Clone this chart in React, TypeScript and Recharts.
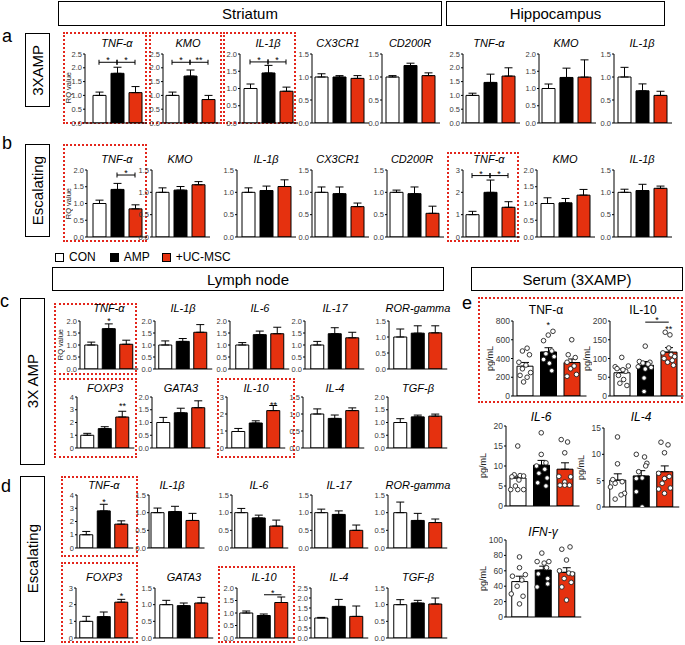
import React from 'react';
import { ComposedChart, Bar, Cell, XAxis, YAxis, ErrorBar, ReferenceLine, Scatter } from 'recharts';

const FONT = '"Liberation Sans", Arial, Helvetica, sans-serif';
const GROUPS = ['CON', 'AMP', '+UC-MSC'];
const FILLS = ['#ffffff', '#000000', '#e5310f'];

type Ann = { a: number; b: number; y: number; t: string; k: 'b' | 'l' | 's' };
const br = (a: number, b: number, y: number, t: string): Ann => ({ a, b, y, t, k: 'b' });
const ln = (a: number, b: number, y: number, t: string): Ann => ({ a, b, y, t, k: 'l' });
const st = (a: number, y: number, t: string): Ann => ({ a, b: a, y, t, k: 's' });

// ---------- Row a : 3XAMP (Striatum x5, Hippocampus x3) ----------
const rowATitles = ['TNF-α', 'KMO', 'IL-1β', 'CX3CR1', 'CD200R', 'TNF-α', 'KMO', 'IL-1β'];
const rowAMean = [[1.0, 1.8, 1.1], [1.0, 1.7, 0.85], [1.0, 1.45, 0.92], [1.0, 1.0, 0.97], [1.0, 1.25, 1.03], [1.0, 1.47, 1.7], [1.0, 1.32, 1.33], [1.0, 0.7, 0.6]];
const rowASem = [[0.12, 0.22, 0.22], [0.12, 0.22, 0.15], [0.13, 0.22, 0.12], [0.07, 0.03, 0.06], [0.03, 0.05, 0.06], [0.08, 0.3, 0.3], [0.13, 0.27, 0.5], [0.21, 0.15, 0.09]];
const rowAMax = [2.5, 2.5, 2.0, 1.5, 1.5, 2.5, 2.0, 1.5];
const rowAStep = [0.5, 0.5, 0.5, 0.5, 0.5, 0.5, 0.5, 0.5];
const rowAAnn: Ann[][] = [[br(0, 1, 2.2, '*'), br(1, 2, 2.2, '*')], [br(0, 1, 2.2, '*'), br(1, 2, 2.2, '**')], [br(0, 1, 1.77, '*'), br(1, 2, 1.77, '*')], [], [], [], [], []];

// ---------- Row b : Escalating ----------
const rowBTitles = ['TNF-α', 'KMO', 'IL-1β', 'CX3CR1', 'CD200R', 'TNF-α', 'KMO', 'IL-1β'];
const rowBMean = [[1.0, 1.42, 0.84], [1.0, 1.05, 1.17], [1.0, 1.04, 1.13], [1.0, 0.97, 0.68], [1.0, 0.97, 0.53], [1.0, 2.0, 1.33], [1.0, 1.02, 1.25], [1.0, 1.04, 1.09]];
const rowBSem = [[0.1, 0.18, 0.12], [0.1, 0.08, 0.07], [0.1, 0.1, 0.15], [0.12, 0.15, 0.08], [0.05, 0.15, 0.16], [0.15, 0.55, 0.25], [0.17, 0.13, 0.17], [0.07, 0.14, 0.05]];
const rowBMax = [2.0, 1.5, 1.5, 1.5, 1.5, 3, 2.0, 1.5];
const rowBStep = [0.5, 0.5, 0.5, 0.5, 0.5, 1, 0.5, 0.5];
const rowBAnn: Ann[][] = [[br(1, 2, 1.85, '*')], [], [], [], [], [br(0, 1, 2.75, '*'), br(1, 2, 2.75, '*')], [], []];

// ---------- Row c : Lymph node 3X AMP ----------
const rowC1Titles = ['TNF-α', 'IL-1β', 'IL-6', 'IL-17', 'ROR-gamma'];
const rowC1Mean = [[1.0, 1.68, 1.03], [1.0, 1.15, 1.53], [1.0, 1.43, 1.47], [1.0, 1.47, 1.3], [1.0, 1.12, 1.13]];
const rowC1Sem = [[0.12, 0.2, 0.17], [0.17, 0.12, 0.32], [0.1, 0.15, 0.27], [0.15, 0.25, 0.23], [0.25, 0.23, 0.22]];
const rowC1Max = [2, 2, 2, 2, 1.5];
const rowC1Step = [0.5, 0.5, 0.5, 0.5, 0.5];
const rowC1Ann: Ann[][] = [[st(1, 2.1, '*')], [], [], [], []];

const rowC2Titles = ['FOXP3', 'GATA3', 'IL-10', 'IL-4', 'TGF-β'];
const rowC2Mean = [[1.0, 1.52, 2.43], [1.0, 1.38, 1.58], [0.97, 1.47, 2.2], [1.0, 0.87, 1.1], [1.0, 1.22, 1.25]];
const rowC2Sem = [[0.15, 0.15, 0.45], [0.2, 0.18, 0.27], [0.18, 0.13, 0.3], [0.15, 0.1, 0.08], [0.15, 0.07, 0.08]];
const rowC2Max = [4, 2, 3, 1.5, 2];
const rowC2Step = [1, 0.5, 1, 0.5, 0.5];
const rowC2Ann: Ann[][] = [[st(2, 3.45, '**')], [], [st(2, 2.65, '**')], [], []];

// ---------- Row d : Lymph node Escalating ----------
const rowD1Titles = ['TNF-α', 'IL-1β', 'IL-6', 'IL-17', 'ROR-gamma'];
const rowD1Mean = [[1.0, 2.8, 1.8], [1.0, 1.03, 0.78], [1.0, 0.85, 0.62], [1.0, 0.95, 0.5], [1.0, 0.78, 0.72]];
const rowD1Sem = [[0.25, 0.5, 0.25], [0.13, 0.15, 0.2], [0.12, 0.08, 0.17], [0.1, 0.1, 0.15], [0.3, 0.2, 0.1]];
const rowD1Max = [4, 1.5, 1.5, 1.5, 1.5];
const rowD1Step = [1, 0.5, 0.5, 0.5, 0.5];
const rowD1Ann: Ann[][] = [[st(1, 3.62, '*')], [], [], [], []];

const rowD2Titles = ['FOXP3', 'GATA3', 'IL-10', 'IL-4', 'TGF-β'];
const rowD2Mean = [[1.0, 1.28, 2.15], [1.0, 0.97, 1.05], [1.0, 0.9, 1.42], [1.0, 1.58, 1.08], [1.0, 1.05, 1.02]];
const rowD2Sem = [[0.3, 0.28, 0.17], [0.13, 0.08, 0.17], [0.08, 0.06, 0.22], [0.03, 0.35, 0.52], [0.15, 0.08, 0.18]];
const rowD2Max = [3, 1.5, 2, 2.5, 1.5];
const rowD2Step = [1, 0.5, 0.5, 0.5, 0.5];
const rowD2Ann: Ann[][] = [[st(2, 2.62, '*')], [], [ln(1, 2, 1.73, '*')], [], []];

// ---------- Serum (3XAMP) ----------
const serumTitles = ['TNF-α', 'IL-10', 'IL-6', 'IL-4', 'IFN-γ'];
const serumMean = [[318, 470, 357], [62, 82, 117], [7.0, 10.2, 9.2], [5.1, 5.9, 6.7], [46, 61, 58]];
const serumSem = [[40, 45, 38], [10, 10, 12], [0.5, 1.2, 1.6], [1.2, 1.0, 1.1], [7, 5, 6]];
const serumMax = [800, 200, 20, 15, 100];
const serumStep = [200, 50, 5, 5, 20];
const serumAnn: Ann[][] = [[st(1, 779, '*')], [ln(1, 2, 197, '*'), st(2, 184, '**')], [], [], []];
// individual animals: [x-jitter in group units, value]
const tnfPts = [
  [[0.1, 510], [-0.1, 480], [0.2, 440], [-0.25, 360], [0.05, 330], [-0.1, 290], [0.25, 250], [-0.2, 220], [0.1, 200], [-0.05, 150]],
  [[0.2, 690], [0.0, 650], [-0.2, 590], [0.15, 480], [-0.1, 450], [0.25, 420], [-0.2, 390], [0.05, 350], [0.15, 270]],
  [[0.0, 600], [-0.15, 440], [0.15, 410], [-0.2, 360], [0.1, 320], [-0.05, 290], [0.2, 230], [-0.2, 210]],
];
const il10Pts = [
  [[0, 103], [0.28, 80], [-0.28, 78], [-0.2, 73], [0.17, 66], [-0.14, 55], [0.08, 44], [-0.08, 34], [0.22, 28], [0.05, 70]],
  [[0, 133], [-0.25, 92], [0.2, 90], [-0.1, 88], [0.12, 85], [-0.3, 78], [0.25, 76], [0, 72], [-0.05, 48], [-0.05, 12]],
  [[-0.15, 170], [0.05, 163], [0, 128], [-0.25, 115], [0.1, 110], [0.25, 105], [-0.2, 100], [0.15, 95], [-0.05, 90], [0.2, 82]],
];
const il6Pts = [
  [[0, 15], [-0.15, 7.8], [0.1, 7.6], [0.25, 7.5], [-0.25, 7.3], [0.05, 6.5], [-0.3, 4.1], [0, 4.1], [0.25, 4.1], [-0.1, 5.0]],
  [[0, 18.3], [0, 12.9], [0.2, 10.8], [-0.2, 10.0], [0.15, 9.2], [-0.1, 8.2], [0.25, 7.0], [-0.15, 5.8], [0.2, 5.0]],
  [[-0.15, 16.6], [0.12, 16.0], [0, 13.3], [-0.25, 7.4], [0.25, 7.3], [0, 6.0], [-0.2, 5.2], [0.2, 5.2], [0, 5.2]],
];
const il4Pts = [
  [[0, 13.3], [0, 8.2], [-0.2, 5.2], [0.2, 4.8], [-0.1, 4.5], [0.3, 2.6], [0.15, 2.3], [-0.1, 1.5], [-0.3, 3.8]],
  [[-0.2, 10], [0.15, 9.5], [0.25, 8.3], [-0.1, 6.7], [0.2, 7.8], [0.05, 5.5], [-0.2, 5.4], [-0.2, 2.9], [0.05, 0]],
  [[-0.15, 12.3], [0.15, 11.8], [0, 10.3], [-0.25, 6.4], [0.2, 5.8], [0, 5.4], [-0.1, 4.5], [0.25, 3.6], [-0.25, 3.4], [0, 2.6]],
];
const ifnPts = [
  [[0, 78], [0, 64], [-0.3, 53], [0.25, 55], [0.1, 48], [-0.1, 40], [-0.35, 30], [0.15, 27], [0, 17]],
  [[-0.05, 83], [-0.25, 72], [0.25, 72], [0.05, 70], [0.15, 64], [-0.2, 56], [0.2, 50], [0.2, 43], [-0.25, 39]],
  [[-0.2, 88], [0.15, 91], [0, 74], [-0.3, 60], [0.1, 57], [0.25, 56], [-0.1, 50], [0.2, 45], [-0.2, 39], [0, 22]],
];
const serumPts = [tnfPts, il10Pts, il6Pts, il4Pts, ifnPts];

// ---------- layout (axis x, bar-group centre) ----------
const layoutA = [[85, 117], [163, 188], [240, 268], [312, 338], [382, 410], [463, 489], [539, 566], [614, 642]];
const layoutB = [[87, 117], [152, 180], [237, 266], [312, 338], [387, 412], [463, 489], [537, 565], [614, 642]];
const layoutC1 = [[80, 109], [155, 183], [230, 260], [305, 335], [389, 418]];
const layoutC2 = [[77, 105], [152, 181], [227, 256], [303, 335], [388, 418]];
const layoutD1 = [[77, 104], [149, 172], [232, 259], [312, 339], [388, 418]];
const layoutD2 = [[76, 104], [155, 184], [237, 264], [311, 339], [388, 418]];
const layoutSerum = [
  { ax: 513, c: 546, top: 321, h: 75, ty: 310, italic: false },
  { ax: 610, c: 643, top: 321, h: 75, ty: 310, italic: false },
  { ax: 506, c: 541, top: 426, h: 80, ty: 417, italic: true },
  { ax: 604, c: 641, top: 428, h: 79, ty: 417, italic: true },
  { ax: 506, c: 543, top: 540, h: 77, ty: 532, italic: true },
];

const ROWS = [
  { titles: rowATitles, mean: rowAMean, sem: rowASem, max: rowAMax, step: rowAStep, ann: rowAAnn, layout: layoutA, top: 54, h: 69, ty: 43, band: 18 },
  { titles: rowBTitles, mean: rowBMean, sem: rowBSem, max: rowBMax, step: rowBStep, ann: rowBAnn, layout: layoutB, top: 170, h: 67, ty: 159, band: 18 },
  { titles: rowC1Titles, mean: rowC1Mean, sem: rowC1Sem, max: rowC1Max, step: rowC1Step, ann: rowC1Ann, layout: layoutC1, top: 321, h: 48, ty: 308, band: 17.5 },
  { titles: rowC2Titles, mean: rowC2Mean, sem: rowC2Sem, max: rowC2Max, step: rowC2Step, ann: rowC2Ann, layout: layoutC2, top: 397, h: 51, ty: 388, band: 17.5 },
  { titles: rowD1Titles, mean: rowD1Mean, sem: rowD1Sem, max: rowD1Max, step: rowD1Step, ann: rowD1Ann, layout: layoutD1, top: 495, h: 53, ty: 485, band: 17.5 },
  { titles: rowD2Titles, mean: rowD2Mean, sem: rowD2Sem, max: rowD2Max, step: rowD2Step, ann: rowD2Ann, layout: layoutD2, top: 588, h: 50, ty: 577, band: 17.5 },
];

const redBoxes = [
  [63, 32, 84, 92], [149, 32, 73, 92], [223, 32, 73, 92],
  [63, 144, 84, 98], [447, 152, 72, 90],
  [54, 303, 83, 72], [54, 378, 83, 80], [217, 378, 78, 80],
  [61, 476, 77, 81], [61, 562, 77, 81], [218, 566, 77, 77],
  [478, 297, 205, 106],
];

const annShape = (a: Ann) => (props: any) => {
  const x1 = props.x1, x2 = props.x2, y = props.y1;
  const cx = (x1 + x2) / 2;
  return (
    <g>
      {a.k !== 's' && <line x1={x1} y1={y} x2={x2} y2={y} stroke="#000" strokeWidth={1} />}
      {a.k === 'b' && <line x1={x1} y1={y - 2.5} x2={x1} y2={y + 2.5} stroke="#000" strokeWidth={1} />}
      {a.k === 'b' && <line x1={x2} y1={y - 2.5} x2={x2} y2={y + 2.5} stroke="#000" strokeWidth={1} />}
      <text x={cx} y={a.k === 's' ? y + 5 : y + 1} textAnchor="middle" fontSize={9} fontFamily={FONT} fill="#000">{a.t}</text>
    </g>
  );
};

const dot = (p: any) => <circle cx={p.cx} cy={p.cy} r={2.3} fill="#fff" stroke="#222" strokeWidth={0.9} />;

function Mini(p: any) {
  const { axisX, center, plotTop, plotH, band, barW, mean, sem, max, step, ann, pts, fs } = p;
  const YW = 26, MT = 22, MR = 2, MB = 7;
  const padL = Math.max(0, center - 1.5 * band - axisX);
  const padR = 3;
  const plotW = padL + 3 * band + padR;
  const width = YW + plotW + MR;
  const height = MT + plotH + 1 + MB;
  const data = GROUPS.map((g, i) => ({ g, v: mean[i], e: [0, sem[i]] }));
  const ticks: number[] = [];
  for (let i = 0; i * step <= max + 1e-9; i++) ticks.push(+(i * step).toFixed(3));
  const fmt = (t: number) => (step < 1 ? t.toFixed(1) : String(t));
  return (
    <div style={{ position: 'absolute', left: axisX - YW, top: plotTop - MT }}>
      <ComposedChart width={width} height={height} data={data} margin={{ top: MT, right: MR, bottom: MB, left: 0 }}>
        <XAxis xAxisId="c" dataKey="g" type="category" tick={false} tickLine={false} axisLine={{ stroke: '#000', strokeWidth: 1 }} height={1} padding={{ left: padL, right: padR }} />
        <XAxis xAxisId="n" dataKey="x" type="number" domain={[-0.5, 2.5]} allowDataOverflow hide padding={{ left: padL, right: padR }} />
        <YAxis width={YW} type="number" domain={[0, max]} allowDataOverflow ticks={ticks} interval={0} tickSize={2} tickMargin={1} tickFormatter={fmt}
          tick={{ fontSize: fs, fill: '#3a3a3a', fontFamily: FONT }} axisLine={{ stroke: '#000' }} tickLine={{ stroke: '#000' }} />
        <Bar xAxisId="c" dataKey="v" barSize={barW} isAnimationActive={false} stroke="#000" strokeWidth={1}>
          {data.map((d, i) => <Cell key={i} fill={FILLS[i]} />)}
          <ErrorBar dataKey="e" width={4} stroke="#000" strokeWidth={1} />
        </Bar>
        {pts && pts.map((grp: number[][], gi: number) => (
          <Scatter key={'s' + gi} xAxisId="n" dataKey="y" data={grp.map(([dx, y]) => ({ x: gi + dx, y }))} isAnimationActive={false} shape={dot} />
        ))}
        {ann.map((a: Ann, i: number) => (
          <ReferenceLine key={'r' + i} xAxisId="n" segment={[{ x: a.a, y: a.y }, { x: a.b, y: a.y }]} ifOverflow="visible" shape={annShape(a)} />
        ))}
      </ComposedChart>
    </div>
  );
}

const Title = ({ x, y, text, italic, size }: any) => (
  <div style={{ position: 'absolute', left: x - 50, top: y - 8, width: 100, height: 16, lineHeight: '16px', textAlign: 'center', fontSize: size, fontStyle: italic ? 'italic' : 'normal', color: '#000' }}>{text}</div>
);

const VText = ({ cx, cy, text, size }: any) => (
  <div style={{ position: 'absolute', left: cx - 10, top: cy - 50, width: 20, height: 100, display: 'flex', alignItems: 'center', justifyContent: 'center' }}>
    <span style={{ writingMode: 'vertical-rl', transform: 'rotate(180deg)', fontSize: size, whiteSpace: 'nowrap', color: '#222' }}>{text}</span>
  </div>
);

const HBox = ({ x, y, w, h, text }: any) => (
  <div style={{ position: 'absolute', left: x, top: y, width: w, height: h, boxSizing: 'border-box', border: '1.5px solid #000', display: 'flex', alignItems: 'center', justifyContent: 'center', fontSize: 15 }}>{text}</div>
);

const VBox = ({ x, y, w, h, text, size }: any) => (
  <div style={{ position: 'absolute', left: x, top: y, width: w, height: h, boxSizing: 'border-box', border: '1.5px solid #000', display: 'flex', alignItems: 'center', justifyContent: 'center' }}>
    <span style={{ writingMode: 'vertical-rl', transform: 'rotate(180deg)', fontSize: size, whiteSpace: 'nowrap' }}>{text}</span>
  </div>
);

const Letter = ({ x, y, t }: any) => (
  <div style={{ position: 'absolute', left: x, top: y, fontSize: 18, lineHeight: '18px' }}>{t}</div>
);

export default function App() {
  return (
    <div style={{ position: 'absolute', left: 0, top: 0, width: 685, height: 645, background: '#fff', overflow: 'hidden', fontFamily: FONT }}>
      <HBox x={58} y={1} w={384} h={25} text="Striatum" />
      <HBox x={446} y={1} w={219} h={25} text="Hippocampus" />
      <HBox x={52} y={267} w={392} h={24} text="Lymph node" />
      <HBox x={471} y={267} w={212} h={24} text="Serum (3XAMP)" />

      <VBox x={25} y={33} w={25} h={74} text="3XAMP" size={15} />
      <VBox x={25} y={144} w={25} h={93} text="Escalating" size={15} />
      <VBox x={20} y={298} w={25} h={167} text="3X AMP" size={15} />
      <VBox x={20} y={476} w={25} h={166} text="Escalating" size={15} />

      <Letter x={2} y={27} t="a" />
      <Letter x={2} y={134} t="b" />
      <Letter x={0} y={292} t="c" />
      <Letter x={1} y={477} t="d" />
      <Letter x={462} y={294} t="e" />

      {/* legend */}
      <div style={{ position: 'absolute', left: 55, top: 250, height: 14, display: 'flex', alignItems: 'center', fontSize: 12 }}>
        {GROUPS.map((g, i) => (
          <div key={g} style={{ display: 'flex', alignItems: 'center', marginRight: i === 0 ? 14 : 12 }}>
            <div style={{ width: 9, height: 9, boxSizing: 'border-box', border: '1px solid #000', background: FILLS[i], marginRight: 5 }} />
            <span>{g}</span>
          </div>
        ))}
      </div>

      {redBoxes.map(([x, y, w, h], i) => (
        <div key={'rb' + i} style={{ position: 'absolute', left: x, top: y, width: w, height: h, boxSizing: 'border-box', border: '2px dotted #e3261c' }} />
      ))}

      {ROWS.map((r, ri) => r.layout.map(([ax, c], ci) => (
        <React.Fragment key={ri + '-' + ci}>
          <Mini axisX={ax} center={c} plotTop={r.top} plotH={r.h} band={r.band} barW={13}
            mean={r.mean[ci]} sem={r.sem[ci]} max={r.max[ci]} step={r.step[ci]} ann={r.ann[ci]} fs={7.5} />
          <Title x={c} y={r.ty} text={r.titles[ci]} italic size={11} />
        </React.Fragment>
      )))}

      {layoutSerum.map((L, i) => (
        <React.Fragment key={'se' + i}>
          <Mini axisX={L.ax} center={L.c} plotTop={L.top} plotH={L.h} band={23.5} barW={16}
            mean={serumMean[i]} sem={serumSem[i]} max={serumMax[i]} step={serumStep[i]} ann={serumAnn[i]} pts={serumPts[i]} fs={8.5} />
          <Title x={L.c} y={L.ty} text={serumTitles[i]} italic={L.italic} size={12} />
          <VText cx={L.ax - 23} cy={L.top + L.h * 0.5} text="pg/mL" size={9} />
        </React.Fragment>
      ))}

      <VText cx={68} cy={88} text="RQ value" size={7.5} />
      <VText cx={68} cy={204} text="RQ value" size={7.5} />
      <VText cx={60} cy={345} text="RQ value" size={7.5} />
    </div>
  );
}
